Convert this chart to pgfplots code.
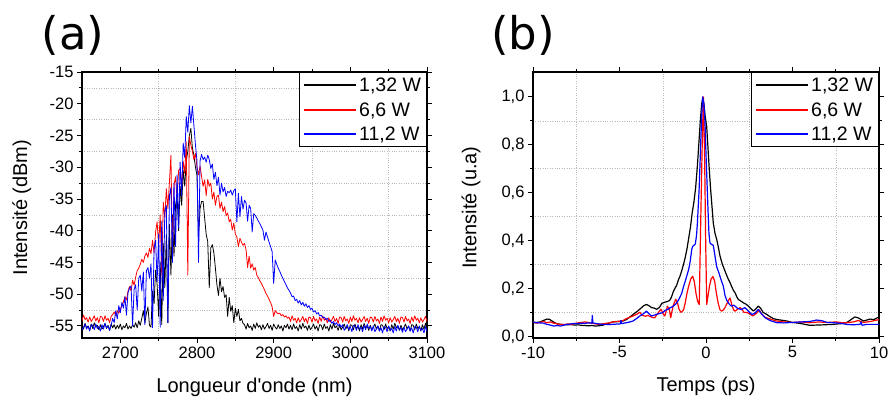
\documentclass[border=0pt]{standalone}
\usepackage{fontspec}
\setmainfont{Liberation Sans}
\newfontfamily\dejavu{DejaVu Sans}
\usepackage{pgfplots}
\usepackage{pgfplotstable}
\pgfplotsset{compat=1.18}

\pgfplotstableread{
l k r b
2650 -54.8 -54.2 -55.6
2652 -55.5 -53.3 -55.2
2654 -54.6 -54.0 -54.7
2656 -55.3 -53.7 -55.5
2658 -55.0 -54.4 -55.0
2660 -55.7 -53.6 -55.8
2662 -54.7 -54.3 -54.8
2664 -55.4 -53.9 -54.9
2666 -54.5 -53.4 -55.6
2668 -55.2 -54.2 -54.7
2670 -54.9 -53.7 -55.4
2672 -55.6 -54.5 -55.1
2674 -54.8 -53.5 -55.8
2676 -55.5 -53.6 -54.8
2678 -55.1 -54.3 -55.5
2680 -54.6 -53.4 -54.6
2682 -55.4 -54.1 -55.3
2684 -54.9 -53.8 -55.0
2686 -55.7 -54.5 -55.7
2688 -54.7 -53.5 -54.9
2690 -55.3 -53.2 -53.8
2692 -54.8 -52.8 -54.5
2694 -55.5 -53.4 -52.6
2696 -54.9 -52.6 -53.9
2698 -55.4 -53.0 -51.8
2700 -54.7 -52.4 -52.9
2702 -55.6 -51.8 -51.3
2704 -55.0 -51.2 -52.2
2706 -55.3 -50.4 -50.4
2708 -54.6 -50.9 -53.3
2710 -55.5 -49.5 -49.8
2712 -55.0 -48.8 -49.0
2714 -55.4 -49.5 -48.7
2716 -54.8 -47.8 -55.0
2718 -55.2 -48.6 -49.2
2720 -54.5 -47.3 -48.5
2722 -55.3 -46.3 -52.5
2724 -54.2 -45.9 -47.5
2726 -54.9 -45.3 -47.0
2728 -53.8 -44.5 -49.5
2730 -52.6 -45.0 -46.5
2732 -54.5 -44.0 -54.8
2734 -53.0 -43.5 -46.3
2736 -52.0 -44.2 -45.8
2738 -54.9 -42.8 -47.5
2740 -55.2 -43.6 -45.2
2742 -49.5 -41.5 -55.3
2744 -51.5 -43.5 -42.8
2746 -46.2 -40.2 -41.5
2748 -48.5 -38.6 -48.0
2750 -53.5 -42.5 -40.5
2752 -45.0 -37.5 -55.2
2754 -54.8 -47.0 -38.5
2756 -42.0 -35.5 -51.0
2758 -49.0 -38.0 -37.0
2760 -40.6 -33.4 -36.0
2762 -54.5 -36.5 -54.5
2764 -39.0 -32.4 -34.5
2766 -47.0 -28.1 -33.2
2768 -37.5 -44.5 -45.0
2770 -44.0 -32.8 -32.5
2772 -36.0 -31.5 -42.5
2774 -34.4 -35.0 -31.2
2776 -40.0 -30.5 -39.5
2778 -33.0 -30.2 -29.2
2780 -36.0 -33.0 -34.5
2782 -30.5 -29.1 -26.2
2784 -33.0 -31.0 -28.5
2786 -29.0 -26.0 -22.0
2788 -27.5 -47.0 -24.5
2790 -25.0 -25.2 -20.3
2792 -23.9 -26.5 -23.0
2794 -27.0 -27.5 -20.4
2796 -28.1 -28.8 -23.5
2798 -30.0 -27.8 -26.5
2800 -31.3 -30.0 -29.0
2802 -41.0 -31.2 -45.0
2804 -36.5 -29.8 -29.0
2806 -35.4 -31.5 -28.0
2808 -35.4 -33.0 -28.8
2810 -38.0 -32.0 -28.4
2812 -40.6 -34.5 -29.2
2814 -41.7 -31.9 -28.1
2816 -49.0 -33.0 -28.8
2818 -42.7 -32.5 -30.2
2820 -42.2 -35.0 -29.5
2822 -43.5 -33.9 -31.9
2824 -45.9 -36.0 -30.8
2826 -48.5 -34.6 -32.9
2828 -50.2 -34.4 -31.6
2830 -47.5 -36.5 -34.4
2832 -49.6 -35.5 -32.5
2834 -48.8 -37.0 -33.9
2836 -50.5 -36.2 -33.2
2838 -50.1 -37.6 -34.6
2840 -53.5 -37.2 -33.8
2842 -50.5 -38.6 -34.0
2844 -52.7 -38.2 -33.6
2846 -51.8 -39.9 -34.4
2848 -54.5 -38.8 -33.7
2850 -52.2 -40.5 -33.4
2852 -53.5 -41.0 -38.6
2854 -52.4 -42.5 -34.1
2856 -54.2 -41.2 -37.8
2858 -53.8 -41.8 -34.6
2860 -54.6 -42.3 -36.6
2862 -54.8 -42.0 -35.2
2864 -55.5 -43.0 -35.6
2866 -54.6 -45.8 -38.5
2868 -55.3 -44.0 -36.0
2870 -55.0 -45.9 -36.5
2872 -55.7 -45.2 -40.2
2874 -54.7 -46.2 -37.3
2876 -55.4 -45.8 -37.6
2878 -54.5 -47.0 -38.0
2880 -55.2 -47.4 -38.5
2882 -54.9 -47.9 -38.9
2884 -55.6 -48.3 -39.4
2886 -54.8 -48.8 -39.9
2888 -55.5 -49.3 -41.5
2890 -55.1 -49.9 -40.2
2892 -54.6 -50.3 -41.0
2894 -55.4 -50.8 -41.8
2896 -54.9 -51.3 -42.5
2898 -55.7 -52.0 -43.3
2900 -54.7 -53.5 -48.3
2902 -55.2 -52.6 -44.6
2904 -55.5 -52.9 -45.3
2906 -54.8 -53.1 -45.9
2908 -55.4 -53.0 -46.4
2910 -55.0 -53.4 -47.0
2912 -55.8 -53.2 -47.5
2914 -54.9 -53.6 -48.0
2916 -55.3 -53.4 -48.5
2918 -54.7 -53.8 -49.0
2920 -55.5 -53.6 -49.4
2922 -54.9 -54.3 -49.8
2924 -55.6 -53.4 -50.4
2926 -54.7 -54.1 -50.3
2928 -55.4 -53.8 -51.0
2930 -55.1 -54.5 -50.8
2932 -55.8 -53.7 -51.4
2934 -54.8 -54.4 -51.0
2936 -55.5 -54.0 -51.7
2938 -54.6 -53.5 -51.3
2940 -55.3 -54.3 -51.9
2942 -55.0 -53.8 -51.5
2944 -55.7 -54.6 -52.1
2946 -54.9 -53.6 -51.8
2948 -55.6 -53.7 -52.4
2950 -55.2 -54.4 -52.2
2952 -54.7 -53.5 -52.8
2954 -55.5 -54.2 -52.6
2956 -55.0 -53.9 -53.1
2958 -55.8 -54.6 -52.9
2960 -54.8 -53.6 -53.4
2962 -54.9 -54.3 -53.3
2964 -55.6 -53.4 -53.7
2966 -54.7 -54.1 -53.6
2968 -55.4 -53.8 -54.0
2970 -55.1 -54.5 -53.8
2972 -55.8 -53.7 -54.3
2974 -54.8 -54.4 -54.1
2976 -55.5 -54.0 -54.6
2978 -54.6 -53.5 -54.3
2980 -55.3 -54.3 -54.8
2982 -55.0 -53.8 -54.5
2984 -55.7 -54.6 -55.0
2986 -54.9 -53.6 -54.7
2988 -55.6 -53.7 -55.2
2990 -55.2 -54.4 -54.8
2992 -54.7 -53.5 -55.7
2994 -55.5 -54.2 -55.3
2996 -55.0 -53.9 -54.8
2998 -55.8 -54.6 -55.6
3000 -54.8 -53.6 -55.1
3002 -54.9 -54.3 -55.9
3004 -55.6 -53.4 -54.9
3006 -54.7 -54.1 -55.0
3008 -55.4 -53.8 -55.7
3010 -55.1 -54.5 -54.8
3012 -55.8 -53.7 -55.5
3014 -54.8 -54.4 -55.2
3016 -55.5 -54.0 -55.9
3018 -54.6 -53.5 -54.9
3020 -55.3 -54.3 -55.6
3022 -55.0 -53.8 -54.7
3024 -55.7 -54.6 -55.4
3026 -54.9 -53.6 -55.1
3028 -55.6 -53.7 -55.8
3030 -55.2 -54.4 -55.0
3032 -54.7 -53.5 -55.9
3034 -55.5 -54.2 -55.5
3036 -55.0 -53.9 -55.0
3038 -55.8 -54.6 -55.8
3040 -54.8 -53.6 -55.3
3042 -54.9 -54.3 -56.1
3044 -55.6 -53.4 -55.1
3046 -54.7 -54.1 -55.2
3048 -55.4 -53.8 -55.9
3050 -55.1 -54.5 -55.0
3052 -55.8 -53.7 -55.7
3054 -54.8 -54.4 -55.4
3056 -55.5 -54.0 -56.1
3058 -54.6 -53.5 -55.1
3060 -55.3 -54.3 -55.8
3062 -55.0 -53.8 -54.9
3064 -55.7 -54.6 -55.6
3066 -54.9 -53.6 -55.3
3068 -55.6 -53.7 -56.0
3070 -55.2 -54.4 -55.2
3072 -54.7 -53.5 -55.9
3074 -55.5 -54.2 -55.5
3076 -55.0 -53.9 -55.0
3078 -55.8 -54.6 -55.8
3080 -54.8 -53.6 -55.3
3082 -54.9 -54.3 -56.1
3084 -55.6 -53.4 -55.1
3086 -54.7 -54.1 -55.2
3088 -55.4 -53.8 -55.9
3090 -55.1 -54.5 -55.0
3092 -55.8 -53.7 -55.7
3094 -54.8 -54.4 -55.4
3096 -55.5 -54.0 -56.1
3098 -54.6 -53.5 -55.1
3100 -55.3 -54.3 -55.8
}\specA

\pgfplotsset{
 myaxis/.style={
  scale only axis,
  anchor=south west,
  height=266pt,
  axis line style={line width=1.1pt, black},
  tick align=outside,
  major tick length=5pt,
  minor tick length=3pt,
  every tick/.style={black, line width=0.9pt},
  grid=minor,
  minor grid style={dotted, gray!55, line width=0.5pt},
  tick label style={font=\fontsize{16.5}{19}\selectfont},
  label style={font=\fontsize{20}{23}\selectfont},
  /pgf/number format/assume math mode=true,
  legend style={at={(1,1)}, anchor=north east, draw=black, fill=white,
    font=\fontsize{19.5}{21}\selectfont, inner xsep=3pt, inner ysep=5pt, row sep=8.9pt,
    nodes={inner xsep=2.6pt, inner ysep=0pt, text height=14.5pt, text depth=1pt}},
  every axis legend/.append style={line width=0.8pt},
  legend cell align=left,
  legend image code/.code={\path (0pt,0pt) -- (52.1pt,0pt);
     \draw[##1] (3.7pt,0pt) -- (48pt,0pt);},
  legend image post style={line width=2pt},
 }
}

\begin{document}
\begin{tikzpicture}
\useasboundingbox (0pt,0pt) rectangle (888pt,401pt);

\begin{axis}[myaxis, at={(82pt,63pt)}, width=345pt,
  xmin=2650, xmax=3100, ymin=-56.9, ymax=-15,
  xtick={2700,2800,2900,3000,3100}, minor xtick={2750,2850,2950,3050},
  ytick={-55,-50,-45,-40,-35,-30,-25,-20,-15},
  minor ytick={-52.5,-47.5,-42.5,-37.5,-32.5,-27.5,-22.5,-17.5},
  xticklabel style={/pgf/number format/1000 sep={}},
  xlabel={Longueur d\textquotesingle onde (nm)},
  ylabel={Intensité (dBm)},
  xlabel style={at={(axis description cs:0.5,-0.205)}, anchor=base},
  ylabel style={at={(axis description cs:-0.159,0.49)}, anchor=base},
]
\addplot[black, line width=0.8pt, line join=round] table[x=l, y=k] {\specA};
\addlegendentry{1,32 W}
\addplot[red, line width=0.8pt, line join=round] table[x=l, y=r] {\specA};
\addlegendentry{6,6 W}
\addplot[blue, line width=0.8pt, line join=round] table[x=l, y=b] {\specA};
\addlegendentry{11,2 W}
\end{axis}

\begin{axis}[myaxis, at={(533pt,63pt)}, width=346pt,
  xmin=-10, xmax=10, ymin=-0.007, ymax=1.104,
  xtick={-10,-5,0,5,10}, minor xtick={-7.5,-2.5,2.5,7.5},
  ytick={0,0.2,0.4,0.6,0.8,1.0}, minor ytick={0.1,0.3,0.5,0.7,0.9},
  yticklabel style={/pgf/number format/.cd, fixed, fixed zerofill, precision=1, use comma},
  xlabel={Temps (ps)},
  ylabel={Intensité (u.a)},
  xlabel style={at={(axis description cs:0.5,-0.202)}, anchor=base},
  ylabel style={at={(axis description cs:-0.164,0.49)}, anchor=base},
]
\addplot[black, line width=1.2pt, line join=round] coordinates {
(-10,0.057)(-9.8,0.058)(-9.6,0.060)(-9.4,0.066)(-9.2,0.072)(-9.05,0.071)(-8.9,0.064)(-8.75,0.057)(-8.6,0.052)(-8.4,0.050)(-8.2,0.050)(-8.0,0.048)(-7.8,0.049)(-7.6,0.047)(-7.4,0.048)(-7.2,0.046)(-7.0,0.045)(-6.8,0.044)(-6.6,0.045)(-6.4,0.043)(-6.2,0.044)(-6.0,0.046)(-5.8,0.050)(-5.6,0.055)(-5.4,0.060)(-5.2,0.061)(-5.0,0.062)(-4.8,0.064)(-4.6,0.070)(-4.4,0.081)(-4.2,0.092)(-4.0,0.103)(-3.8,0.115)(-3.6,0.128)(-3.45,0.133)(-3.3,0.128)(-3.15,0.120)(-3.0,0.118)(-2.85,0.113)(-2.7,0.120)(-2.55,0.138)(-2.4,0.142)(-2.25,0.145)(-2.1,0.150)(-2.0,0.163)(-1.9,0.185)(-1.8,0.200)(-1.7,0.212)(-1.6,0.235)(-1.5,0.252)(-1.4,0.275)(-1.3,0.300)(-1.2,0.330)(-1.1,0.365)(-1.0,0.410)(-0.9,0.455)(-0.8,0.515)(-0.7,0.560)(-0.6,0.620)(-0.5,0.710)(-0.4,0.820)(-0.33,0.900)(-0.25,0.970)(-0.19,0.995)(-0.12,0.970)(-0.05,0.920)(0.04,0.876)(0.12,0.780)(0.19,0.696)(0.26,0.620)(0.33,0.557)(0.42,0.474)(0.52,0.430)(0.62,0.404)(0.72,0.370)(0.81,0.335)(0.95,0.300)(1.10,0.272)(1.25,0.245)(1.39,0.224)(1.50,0.205)(1.60,0.190)(1.68,0.182)(1.78,0.165)(1.87,0.154)(2.0,0.148)(2.16,0.140)(2.3,0.135)(2.45,0.126)(2.6,0.115)(2.73,0.106)(2.85,0.112)(3.02,0.126)(3.15,0.118)(3.3,0.100)(3.5,0.092)(3.7,0.082)(3.9,0.074)(4.1,0.070)(4.4,0.067)(4.67,0.064)(5.0,0.058)(5.44,0.054)(6.0,0.046)(6.4,0.047)(6.8,0.048)(7.35,0.050)(7.8,0.053)(8.12,0.057)(8.35,0.068)(8.6,0.081)(8.8,0.077)(9.1,0.064)(9.3,0.068)(9.48,0.072)(9.7,0.070)(10,0.081)
};
\addlegendentry{1,32 W}
\addplot[red, line width=1.2pt, line join=round] coordinates {
(-10,0.060)(-9.8,0.055)(-9.6,0.058)(-9.4,0.062)(-9.2,0.057)(-9.0,0.060)(-8.8,0.055)(-8.6,0.052)(-8.4,0.050)(-8.2,0.048)(-8.0,0.052)(-7.8,0.050)(-7.6,0.053)(-7.4,0.056)(-7.2,0.058)(-7.0,0.060)(-6.8,0.058)(-6.6,0.055)(-6.4,0.052)(-6.2,0.050)(-6.0,0.052)(-5.8,0.054)(-5.6,0.056)(-5.4,0.060)(-5.2,0.062)(-5.0,0.063)(-4.8,0.066)(-4.6,0.074)(-4.4,0.080)(-4.22,0.085)(-4.0,0.092)(-3.83,0.101)(-3.7,0.088)(-3.5,0.084)(-3.35,0.087)(-3.15,0.080)(-2.97,0.077)(-2.75,0.100)(-2.6,0.113)(-2.45,0.090)(-2.38,0.085)(-2.23,0.126)(-2.12,0.112)(-2.04,0.078)(-1.9,0.128)(-1.75,0.155)(-1.65,0.140)(-1.55,0.112)(-1.45,0.100)(-1.3,0.110)(-1.2,0.140)(-1.1,0.180)(-1.0,0.210)(-0.88,0.240)(-0.77,0.251)(-0.68,0.230)(-0.58,0.180)(-0.48,0.145)(-0.39,0.133)(-0.3,0.500)(-0.22,0.800)(-0.15,1.000)(-0.08,0.750)(-0.02,0.400)(0.04,0.133)(0.12,0.170)(0.2,0.210)(0.3,0.240)(0.4,0.250)(0.5,0.230)(0.6,0.180)(0.7,0.140)(0.8,0.112)(0.9,0.105)(1.0,0.110)(1.1,0.120)(1.2,0.135)(1.3,0.150)(1.39,0.160)(1.5,0.130)(1.6,0.110)(1.68,0.105)(1.8,0.112)(1.97,0.120)(2.1,0.110)(2.2,0.100)(2.35,0.100)(2.5,0.095)(2.7,0.085)(2.9,0.095)(3.08,0.110)(3.2,0.095)(3.4,0.080)(3.6,0.075)(4.0,0.065)(4.5,0.060)(5.0,0.058)(5.5,0.060)(6.0,0.057)(6.5,0.060)(7.0,0.058)(7.5,0.060)(8.0,0.056)(8.5,0.060)(8.8,0.066)(9.1,0.058)(9.5,0.062)(10,0.070)
};
\addlegendentry{6,6 W}
\addplot[blue, line width=1.2pt, line join=round] coordinates {
(-10,0.060)(-9.8,0.057)(-9.6,0.056)(-9.4,0.055)(-9.2,0.050)(-9.0,0.047)(-8.8,0.043)(-8.6,0.045)(-8.4,0.043)(-8.2,0.047)(-8.0,0.050)(-7.8,0.052)(-7.6,0.054)(-7.4,0.053)(-7.2,0.055)(-7.0,0.054)(-6.8,0.056)(-6.6,0.055)(-6.57,0.087)(-6.54,0.056)(-6.4,0.054)(-6.2,0.052)(-6.0,0.050)(-5.8,0.050)(-5.6,0.049)(-5.4,0.050)(-5.2,0.051)(-4.95,0.052)(-4.92,0.066)(-4.88,0.053)(-4.6,0.057)(-4.4,0.060)(-4.22,0.064)(-4.0,0.075)(-3.83,0.085)(-3.6,0.095)(-3.45,0.105)(-3.3,0.095)(-3.16,0.085)(-3.0,0.088)(-2.87,0.092)(-2.7,0.095)(-2.5,0.099)(-2.37,0.108)(-2.2,0.113)(-2.08,0.119)(-1.89,0.126)(-1.75,0.135)(-1.69,0.140)(-1.6,0.150)(-1.5,0.165)(-1.4,0.180)(-1.31,0.205)(-1.2,0.230)(-1.12,0.250)(-1.0,0.280)(-0.92,0.310)(-0.83,0.360)(-0.78,0.375)(-0.7,0.380)(-0.62,0.385)(-0.55,0.420)(-0.5,0.470)(-0.45,0.540)(-0.4,0.610)(-0.35,0.710)(-0.3,0.820)(-0.25,0.920)(-0.19,1.000)(-0.12,0.970)(-0.06,0.896)(0.0,0.760)(0.075,0.610)(0.12,0.520)(0.17,0.430)(0.23,0.390)(0.3,0.385)(0.42,0.380)(0.52,0.335)(0.62,0.290)(0.72,0.270)(0.81,0.250)(0.9,0.230)(1.0,0.210)(1.1,0.170)(1.2,0.150)(1.29,0.140)(1.4,0.130)(1.48,0.126)(1.6,0.130)(1.68,0.126)(1.8,0.118)(1.9,0.115)(2.05,0.112)(2.25,0.120)(2.45,0.105)(2.64,0.092)(2.8,0.095)(3.02,0.112)(3.2,0.095)(3.41,0.078)(3.7,0.066)(4.09,0.057)(4.5,0.056)(5.0,0.058)(5.5,0.060)(6.0,0.062)(6.4,0.068)(6.7,0.065)(7.0,0.058)(7.35,0.057)(7.8,0.054)(8.12,0.050)(8.5,0.048)(8.9,0.050)(8.97,0.060)(9.02,0.046)(9.3,0.050)(9.6,0.050)(10,0.050)
};
\addlegendentry{11,2 W}
\end{axis}

\node[inner sep=0pt, anchor=center] at (73pt,366pt) {\dejavu\fontsize{45}{45}\selectfont (a)};
\node[inner sep=0pt, anchor=center] at (523pt,366pt) {\dejavu\fontsize{45}{45}\selectfont (b)};
\end{tikzpicture}
\end{document}
